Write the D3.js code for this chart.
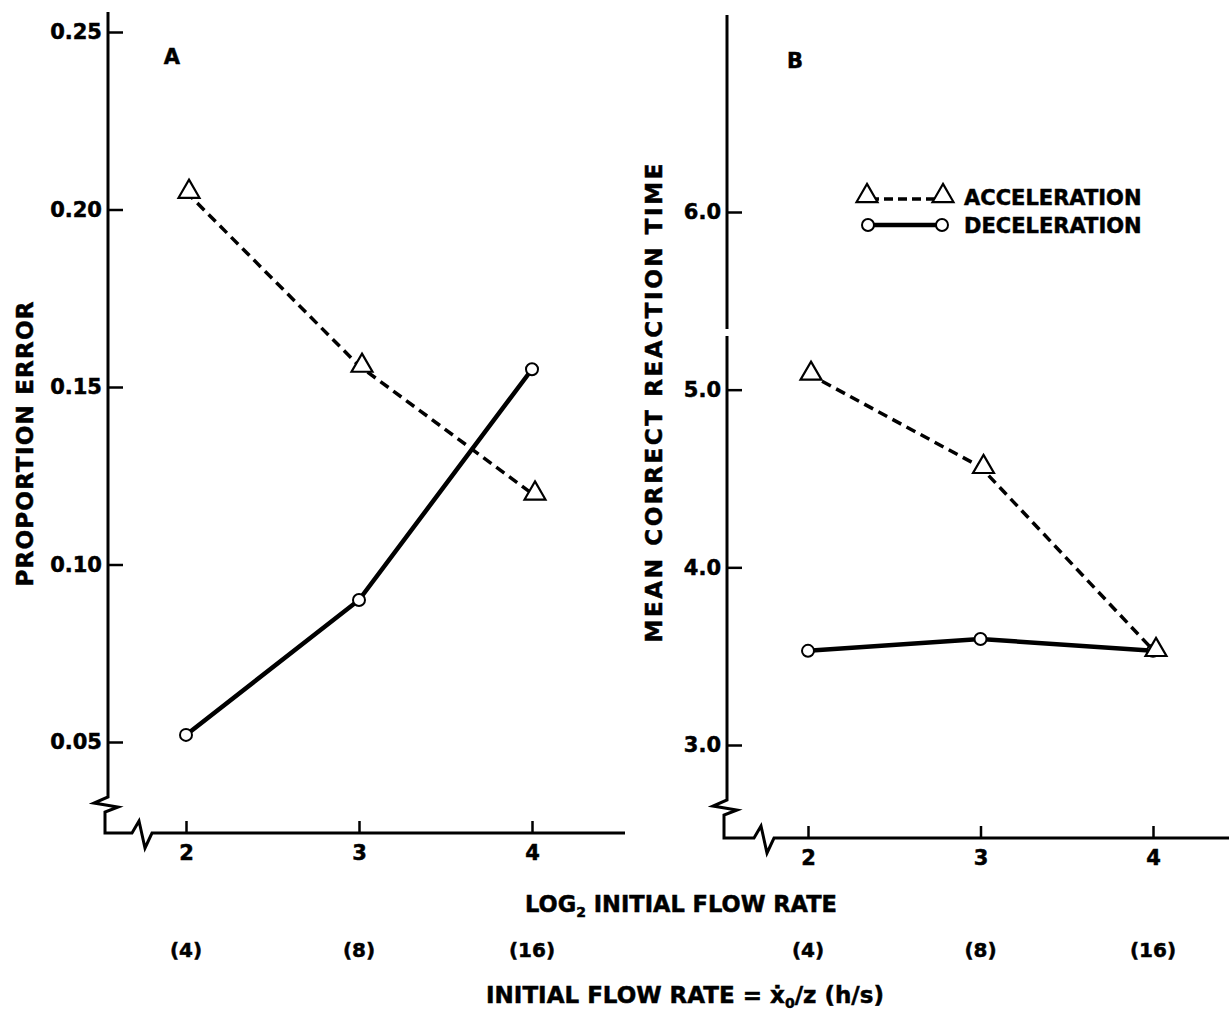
<!DOCTYPE html>
<html><head><meta charset="utf-8">
<script src="https://cdn.jsdelivr.net/npm/d3@7"></script>
<style>
body{margin:0;background:#fff;}
text{font-family:"DejaVu Sans",sans-serif;font-weight:bold;fill:#000;stroke:#000;stroke-width:0.5px;}
</style></head>
<body>
<svg id="c" width="1229" height="1012"></svg>
<script>
const categories = [2, 3, 4];
const flowRates = ["(4)", "(8)", "(16)"];
const errAccel = [0.205, 0.156, 0.120];
const errDecel = [0.052, 0.090, 0.155];
const rtAccel = [5.09, 4.565, 3.535];
const rtDecel = [3.53, 3.597, 3.53];
const errTicks = [0.05, 0.10, 0.15, 0.20, 0.25];
const rtTicks = [3, 4, 5, 6];
const seriesNames = ["ACCELERATION", "DECELERATION"];

const svg = d3.select("#c");
svg.append("rect").attr("width",1229).attr("height",1012).attr("fill","#fff");

function panel(cfg){
  const g = svg.append("g");
  const x = d3.scaleLinear().domain([2,4]).range(cfg.xr);
  const y = d3.scaleLinear().domain(cfg.yd).range(cfg.yr);
  const ax = cfg.ax, by = cfg.by, top = cfg.top;
  let p = `M${ax},${top}`;
  if (cfg.gap) p += `V${cfg.gap[0]}M${ax},${cfg.gap[1]}`;
  p += `V${cfg.yb-6}L${ax-14},${cfg.yb}L${ax+10},${cfg.yb+4}L${ax-3},${cfg.yb+9}L${ax-3},${by}`;
  p += `H${cfg.xb-8}L${cfg.xb-1},${by-12}L${cfg.xb+5},${by+15}L${cfg.xb+12},${by}H${cfg.xend}`;
  g.append("path").attr("d",p).attr("fill","none").attr("stroke","#000").attr("stroke-width",3).attr("stroke-linejoin","miter");

  const ya = d3.axisLeft(y).tickValues(cfg.ticks).tickFormat(d3.format(cfg.fmt)).tickSizeInner(-15).tickSizeOuter(0).tickPadding(6);
  const yg = g.append("g").attr("transform",`translate(${ax},0)`).call(ya);
  yg.select(".domain").remove();
  yg.selectAll(".tick line").attr("stroke","#000").attr("stroke-width",2.5);
  yg.selectAll(".tick text").attr("fill","#000").style("font-size","21px").style("font-family","DejaVu Sans").style("font-weight","bold");

  const xa = d3.axisBottom(x).tickValues(categories).tickFormat(d3.format("d")).tickSizeInner(-12).tickSizeOuter(0).tickPadding(12);
  const xg = g.append("g").attr("transform",`translate(0,${by})`).call(xa);
  xg.select(".domain").remove();
  xg.selectAll(".tick line").attr("stroke","#000").attr("stroke-width",2.5);
  xg.selectAll(".tick text").attr("fill","#000").style("font-size","21px").style("font-family","DejaVu Sans").style("font-weight","bold");

  g.selectAll("text.fr").data(flowRates).enter().append("text").attr("class","fr")
    .attr("x",(d,i)=>x(categories[i])).attr("y",957).attr("text-anchor","middle")
    .style("font-size","20px").text(d=>d);

  g.append("text").attr("x",cfg.letter[0]).attr("y",cfg.letter[1]).attr("text-anchor","middle").style("font-size","21px").text(cfg.name);

  g.append("text").attr("transform",`translate(${cfg.ytitle[0]},${cfg.ytitle[1]}) rotate(-90)`)
    .attr("text-anchor","middle").attr("textLength",cfg.ytitle[2]).attr("lengthAdjust","spacing")
    .style("font-size","23px").text(cfg.ylabel);

  const line = d3.line().x((d,i)=>x(categories[i])).y(d=>y(d));
  g.append("path").datum(cfg.dec).attr("d",line).attr("fill","none").attr("stroke","#000").attr("stroke-width",4.5);
  g.append("path").datum(cfg.acc).attr("d",line).attr("fill","none").attr("stroke","#000").attr("stroke-width",3.5).attr("stroke-dasharray","10,6");
  g.selectAll("circle.dec").data(cfg.dec).enter().append("circle").attr("class","dec")
    .attr("cx",(d,i)=>x(categories[i])).attr("cy",d=>y(d)).attr("r",6)
    .attr("fill","#fff").attr("stroke","#000").attr("stroke-width",2);
  const tri = d3.symbol().type(d3.symbolTriangle).size(190);
  g.selectAll("path.acc").data(cfg.acc).enter().append("path").attr("class","acc")
    .attr("transform",(d,i)=>`translate(${x(categories[i])+3},${y(d)})`).attr("d",tri)
    .attr("fill","#fff").attr("stroke","#000").attr("stroke-width",2.2);
  return {x,y};
}

panel({name:"A", xr:[186,532], yd:[0.05,0.25], yr:[742,32], ax:108, top:12, yb:803, by:833, xb:140, xend:625,
  ticks:errTicks, fmt:".2f", acc:errAccel, dec:errDecel, letter:[172,64], ytitle:[33,444,285], ylabel:"PROPORTION ERROR"});
panel({name:"B", xr:[808,1153], yd:[3,6], yr:[745,212], ax:727, top:15, gap:[329,336], yb:806, by:838, xb:762, xend:1229,
  ticks:rtTicks, fmt:".1f", acc:rtAccel, dec:rtDecel, letter:[795,68], ytitle:[662,403,479], ylabel:"MEAN CORRECT REACTION TIME"});

const lg = svg.append("g");
const triL = d3.symbol().type(d3.symbolTriangle).size(190);
lg.append("line").attr("x1",870).attr("x2",938).attr("y1",199).attr("y2",199).attr("stroke","#000").attr("stroke-width",3.5).attr("stroke-dasharray","9,5");
lg.append("line").attr("x1",870).attr("x2",938).attr("y1",225).attr("y2",225).attr("stroke","#000").attr("stroke-width",4.5);
lg.append("path").attr("transform","translate(867,196)").attr("d",triL).attr("fill","#fff").attr("stroke","#000").attr("stroke-width",2.2);
lg.append("path").attr("transform","translate(943,196)").attr("d",triL).attr("fill","#fff").attr("stroke","#000").attr("stroke-width",2.2);
lg.append("circle").attr("cx",868).attr("cy",225).attr("r",6).attr("fill","#fff").attr("stroke","#000").attr("stroke-width",2);
lg.append("circle").attr("cx",942).attr("cy",225).attr("r",6).attr("fill","#fff").attr("stroke","#000").attr("stroke-width",2);
lg.append("text").attr("x",964).attr("y",205).style("font-size","21px").text(seriesNames[0]);
lg.append("text").attr("x",964).attr("y",233).style("font-size","21px").text(seriesNames[1]);

const t1 = svg.append("text").attr("x",681).attr("y",912).attr("text-anchor","middle").style("font-size","22.5px");
t1.append("tspan").text("LOG");
t1.append("tspan").attr("dy",5).style("font-size","14px").text("2");
t1.append("tspan").attr("dy",-5).text(" INITIAL FLOW RATE");

const t2 = svg.append("text").attr("x",685).attr("y",1003).attr("text-anchor","middle").style("font-size","23px");
t2.append("tspan").text("INITIAL FLOW RATE = \u1E8B");
t2.append("tspan").attr("dy",5).style("font-size","14px").text("0");
t2.append("tspan").attr("dy",-5).text("/z (h/s)");
</script>
</body></html>
